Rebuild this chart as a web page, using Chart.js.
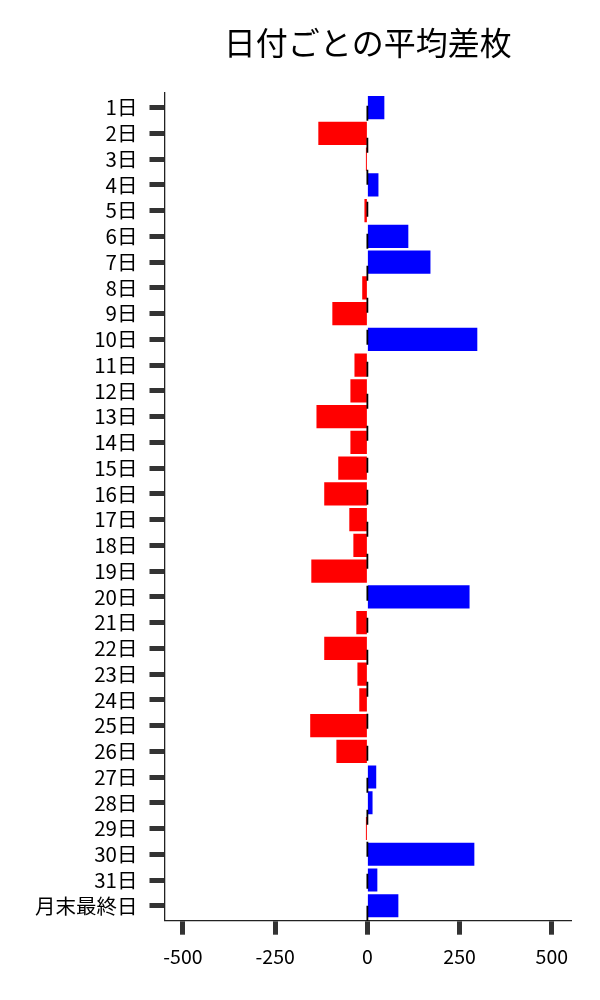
<!DOCTYPE html>
<html>
<head>
<meta charset="utf-8">
<script src="https://cdn.jsdelivr.net/npm/chart.js@4"></script>
<style>
  html, body { margin: 0; padding: 0; background: #fff; }
  #wrap { width: 600px; height: 1000px; }
</style>
</head>
<body>
<div id="wrap"><canvas id="myChart" width="600" height="1000"></canvas></div>
<script>
const title = "日付ごとの平均差枚";
const days = [
  "1日", "2日", "3日", "4日", "5日", "6日", "7日", "8日", "9日", "10日",
  "11日", "12日", "13日", "14日", "15日", "16日", "17日", "18日", "19日", "20日",
  "21日", "22日", "23日", "24日", "25日", "26日", "27日", "28日", "29日", "30日",
  "31日", "月末最終日",
];
const avgDiff = [
  46, -133, -4, 30, -8, 111, 171, -14, -95, 298,
  -35, -46, -138, -46, -79, -117, -49, -38, -152, 277,
  -30, -117, -27, -22, -155, -84, 24, 14, -4, 290,
  27, 84,
];
const xTicks = [-500, -250, 0, 250, 500];

const font = "'Noto Sans CJK JP', 'Noto Sans', sans-serif";
Chart.defaults.font.family = font;
Chart.defaults.color = "#000";

// dashed line at zero, drawn over the bars
const zeroLine = {
  id: "zeroLine",
  afterDatasetsDraw(chart) {
    const { ctx, chartArea, scales } = chart;
    const x = scales.x.getPixelForValue(0);
    ctx.save();
    ctx.strokeStyle = "#000";
    ctx.lineWidth = 1.8;
    ctx.setLineDash([15, 17]);
    ctx.lineDashOffset = 19;
    ctx.beginPath();
    ctx.moveTo(x, chartArea.top);
    ctx.lineTo(x, chartArea.bottom);
    ctx.stroke();
    ctx.restore();
  },
};

// title centred over the plot area
const areaTitle = {
  id: "areaTitle",
  afterDraw(chart) {
    const { ctx, chartArea } = chart;
    ctx.save();
    ctx.fillStyle = "#000";
    ctx.font = "32px " + font;
    ctx.textAlign = "center";
    ctx.textBaseline = "middle";
    ctx.fillText(title, (chartArea.left + chartArea.right) / 2, 43);
    ctx.restore();
  },
};

const config = {
  type: "bar",
  data: {
    labels: days,
    datasets: [
      {
        label: title,
        data: avgDiff,
        backgroundColor: avgDiff.map((v) => (v >= 0 ? "#0000ff" : "#ff0000")),
        borderWidth: 0,
        barPercentage: 0.9,
        categoryPercentage: 1,
      },
    ],
  },
  options: {
    indexAxis: "y",
    responsive: false,
    animation: false,
    layout: {
      padding: { top: 92.7, right: 29, left: 0, bottom: 0 },
    },
    plugins: {
      legend: { display: false },
      title: { display: false },
      tooltip: { enabled: false },
    },
    scales: {
      x: {
        min: -550,
        max: 552,
        afterBuildTicks: (scale) => {
          scale.ticks = xTicks.map((v) => ({ value: v }));
        },
        afterFit: (scale) => {
          scale.height = 79.3;
        },
        border: { display: true, color: "#222", width: 1.3 },
        grid: {
          drawOnChartArea: false,
          drawTicks: true,
          tickLength: 14,
          tickWidth: 5,
          tickColor: "#333",
        },
        ticks: {
          padding: 10,
          maxRotation: 0,
          font: { size: 19.5 },
          color: "#000",
        },
      },
      y: {
        offset: true,
        // a little more room above the first and below the last bar
        afterBuildTicks: (scale) => {
          scale._startValue = scale.min - 0.58;
          scale._valueRange = scale.max - scale.min + 1.16;
        },
        afterFit: (scale) => {
          scale.width = 164.5;
        },
        border: { display: true, color: "#222", width: 1.3 },
        grid: {
          offset: false,
          drawOnChartArea: false,
          drawTicks: true,
          tickLength: 15,
          tickWidth: 5,
          tickColor: "#333",
        },
        ticks: {
          padding: 12,
          autoSkip: false,
          font: { size: 20.5 },
          color: "#000",
        },
      },
    },
  },
  plugins: [zeroLine, areaTitle],
};

const myChart = new Chart(document.getElementById("myChart"), config);
</script>
</body>
</html>
